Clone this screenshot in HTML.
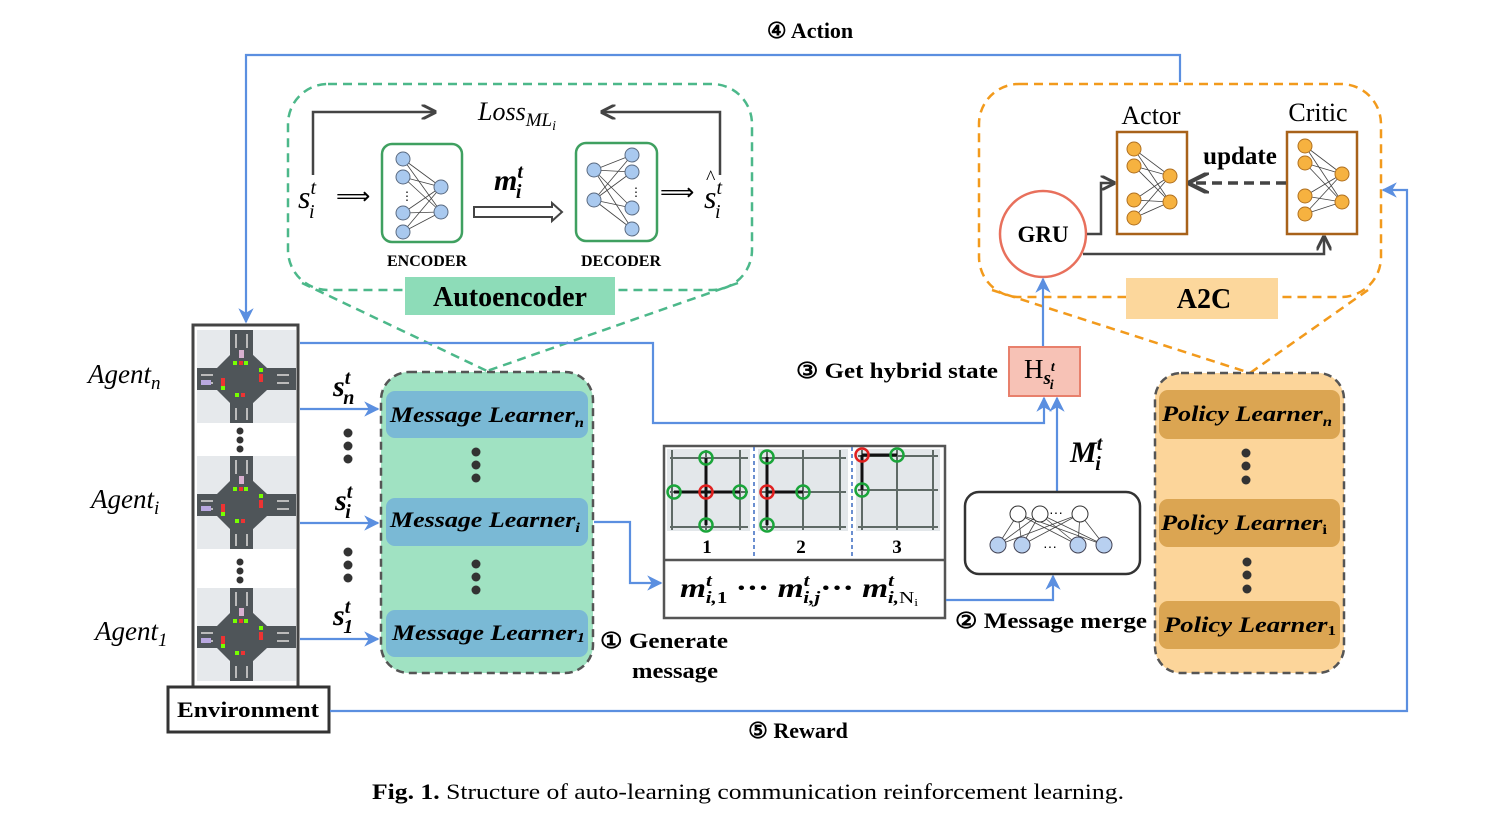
<!DOCTYPE html>
<html><head><meta charset="utf-8"><style>
html,body{margin:0;padding:0;background:#fff;}
svg{display:block;}
.s{font-family:"Liberation Serif",serif;}
.b{font-weight:bold;}
.i{font-style:italic;}
</style></head><body>
<svg width="1502" height="822" viewBox="0 0 1502 822" xmlns="http://www.w3.org/2000/svg">
<defs>
<marker id="ab" viewBox="0 0 10 10" refX="9" refY="5" markerWidth="7" markerHeight="7" orient="auto-start-reverse"><path d="M0,0 L10,5 L0,10 L3,5 Z" fill="#5b8fe0"/></marker>
<marker id="ak" viewBox="0 0 10 10" refX="9" refY="5" markerWidth="6" markerHeight="6" orient="auto"><path d="M0,0 L10,5 L0,10" fill="none" stroke="#444" stroke-width="2"/></marker>
<g id="inter">
<rect x="0" y="0" width="99" height="93" fill="#e6e9ec"/>
<rect x="33" y="0" width="23" height="93" fill="#4f5559"/>
<rect x="0" y="38" width="99" height="22" fill="#4f5559"/>
<polygon points="34,24 55,24 70,38 70,60 55,74 34,74 20,60 20,38" fill="#4f5559"/>
<rect x="38" y="4" width="2" height="14" fill="#bbb"/><rect x="49" y="4" width="2" height="14" fill="#bbb"/>
<rect x="38" y="78" width="2" height="12" fill="#bbb"/><rect x="49" y="78" width="2" height="12" fill="#bbb"/>
<rect x="4" y="44" width="12" height="2" fill="#bbb"/><rect x="80" y="44" width="12" height="2" fill="#bbb"/>
<rect x="4" y="52" width="12" height="2" fill="#bbb"/><rect x="80" y="52" width="12" height="2" fill="#bbb"/>
<rect x="36" y="31" width="4" height="4" fill="#7f0"/><rect x="42" y="31" width="4" height="4" fill="#e33"/><rect x="47" y="31" width="4" height="4" fill="#7f0"/>
<rect x="38" y="63" width="4" height="4" fill="#7f0"/><rect x="44" y="63" width="4" height="4" fill="#e33"/>
<rect x="62" y="38" width="4" height="4" fill="#7f0"/><rect x="62" y="44" width="4" height="8" fill="#e33"/>
<rect x="24" y="48" width="4" height="8" fill="#e33"/><rect x="24" y="56" width="4" height="4" fill="#7f0"/>
<rect x="4" y="50" width="10" height="5" fill="#b9a8e0"/><rect x="42" y="20" width="5" height="8" fill="#d8b0d0"/>
</g>
<g id="node"><circle r="7" fill="#a9c9ef" stroke="#5a6a80" stroke-width="1"/></g>
<g id="onode"><circle r="7" fill="#f6b240" stroke="#b07020" stroke-width="1"/></g>
</defs>

<polyline points="1180,82 1180,55 246,55 246,322" fill="none" stroke="#5b8fe0" stroke-width="2.2" marker-end="url(#ab)"/>
<text x="810" y="38" class="s b" font-size="22" text-anchor="middle">④ Action</text>

<rect x="288" y="84" width="464" height="206" rx="40" fill="none" stroke="#4cb88a" stroke-width="2.5" stroke-dasharray="9,6"/>
<line x1="302" y1="283" x2="487" y2="371" stroke="#4cb88a" stroke-width="2.5" stroke-dasharray="9,6"/>
<line x1="738" y1="283" x2="487" y2="371" stroke="#4cb88a" stroke-width="2.5" stroke-dasharray="9,6"/>
<rect x="405" y="277" width="210" height="38" fill="#8ddcb8"/>
<text x="510" y="306" class="s b" font-size="28" text-anchor="middle">Autoencoder</text>
<polyline points="313,175 313,112 435,112" fill="none" stroke="#444" stroke-width="2.5" marker-end="url(#ak)"/>
<polyline points="720,175 720,112 602,112" fill="none" stroke="#444" stroke-width="2.5" marker-end="url(#ak)"/>
<text x="478" y="120" class="s i" font-size="26">Loss<tspan font-size="19" dy="6">ML</tspan><tspan font-size="14" dy="4">i</tspan></text>
<text x="298" y="208" class="s i" font-size="32">s<tspan font-size="20" dy="-14">t</tspan><tspan font-size="20" dx="-7" dy="24">i</tspan></text>
<text x="336" y="204" font-family="DejaVu Sans" font-size="24">⟹</text>
<text x="660" y="200" font-family="DejaVu Sans" font-size="24">⟹</text>
<text x="704" y="208" class="s i" font-size="32">s<tspan font-size="20" dy="-14">t</tspan><tspan font-size="20" dx="-7" dy="24">i</tspan></text>
<text x="706" y="184" class="s" font-size="20">^</text>
<rect x="382" y="144" width="80" height="98" rx="10" fill="#fff" stroke="#3fa060" stroke-width="2.5"/>
<g stroke="#444" stroke-width="0.8">
<line x1="403" y1="159" x2="441" y2="187"/><line x1="403" y1="159" x2="441" y2="212"/>
<line x1="403" y1="177" x2="441" y2="187"/><line x1="403" y1="177" x2="441" y2="212"/>
<line x1="403" y1="213" x2="441" y2="187"/><line x1="403" y1="213" x2="441" y2="212"/>
<line x1="403" y1="232" x2="441" y2="187"/><line x1="403" y1="232" x2="441" y2="212"/>
</g>
<use href="#node" x="403" y="159"/><use href="#node" x="403" y="177"/><use href="#node" x="403" y="213"/><use href="#node" x="403" y="232"/>
<use href="#node" x="441" y="187"/><use href="#node" x="441" y="212"/>
<text x="401" y="200" font-size="12" font-family="Liberation Sans">⋮</text>
<text x="427" y="266" class="s b" font-size="16" text-anchor="middle">ENCODER</text>
<rect x="576" y="143" width="81" height="98" rx="10" fill="#fff" stroke="#3fa060" stroke-width="2.5"/>
<g stroke="#444" stroke-width="0.8">
<line x1="594" y1="170" x2="632" y2="155"/><line x1="594" y1="170" x2="632" y2="172"/><line x1="594" y1="170" x2="632" y2="208"/><line x1="594" y1="170" x2="632" y2="229"/>
<line x1="594" y1="200" x2="632" y2="155"/><line x1="594" y1="200" x2="632" y2="172"/><line x1="594" y1="200" x2="632" y2="208"/><line x1="594" y1="200" x2="632" y2="229"/>
</g>
<use href="#node" x="594" y="170"/><use href="#node" x="594" y="200"/>
<use href="#node" x="632" y="155"/><use href="#node" x="632" y="172"/><use href="#node" x="632" y="208"/><use href="#node" x="632" y="229"/>
<text x="630" y="196" font-size="12" font-family="Liberation Sans">⋮</text>
<text x="621" y="266" class="s b" font-size="16" text-anchor="middle">DECODER</text>
<text x="494" y="190" class="s b i" font-size="30">m<tspan font-size="20" dy="-12">t</tspan><tspan font-size="20" dx="-7" dy="20">i</tspan></text>
<path d="M474,207 L552,207 L552,203 L562,212 L552,221 L552,217 L474,217 Z" fill="#fff" stroke="#444" stroke-width="2"/>

<rect x="979" y="84" width="402" height="213" rx="40" fill="none" stroke="#f29a1c" stroke-width="2.5" stroke-dasharray="9,6"/>
<line x1="992" y1="290" x2="1250" y2="373" stroke="#f29a1c" stroke-width="2.5" stroke-dasharray="9,6"/>
<line x1="1368" y1="290" x2="1250" y2="373" stroke="#f29a1c" stroke-width="2.5" stroke-dasharray="9,6"/>
<rect x="1126" y="278" width="152" height="41" fill="#fcd79c"/>
<text x="1204" y="308" class="s b" font-size="28" text-anchor="middle">A2C</text>
<text x="1151" y="124" class="s" font-size="26" text-anchor="middle">Actor</text>
<text x="1318" y="121" class="s" font-size="26" text-anchor="middle">Critic</text>
<text x="1240" y="164" class="s b" font-size="25" text-anchor="middle">update</text>
<rect x="1117" y="132" width="70" height="102" fill="#fff" stroke="#a8621a" stroke-width="2.5"/>
<rect x="1287" y="132" width="70" height="102" fill="#fff" stroke="#a8621a" stroke-width="2.5"/>
<g stroke="#444" stroke-width="0.8">
<line x1="1134" y1="149" x2="1170" y2="176"/><line x1="1134" y1="149" x2="1170" y2="202"/><line x1="1134" y1="166" x2="1170" y2="176"/><line x1="1134" y1="166" x2="1170" y2="202"/>
<line x1="1134" y1="200" x2="1170" y2="176"/><line x1="1134" y1="200" x2="1170" y2="202"/><line x1="1134" y1="218" x2="1170" y2="176"/><line x1="1134" y1="218" x2="1170" y2="202"/>
<line x1="1305" y1="146" x2="1342" y2="174"/><line x1="1305" y1="146" x2="1342" y2="202"/><line x1="1305" y1="163" x2="1342" y2="174"/><line x1="1305" y1="163" x2="1342" y2="202"/>
<line x1="1305" y1="196" x2="1342" y2="174"/><line x1="1305" y1="196" x2="1342" y2="202"/><line x1="1305" y1="214" x2="1342" y2="174"/><line x1="1305" y1="214" x2="1342" y2="202"/>
</g>
<use href="#onode" x="1134" y="149"/><use href="#onode" x="1134" y="166"/><use href="#onode" x="1134" y="200"/><use href="#onode" x="1134" y="218"/>
<use href="#onode" x="1170" y="176"/><use href="#onode" x="1170" y="202"/>
<use href="#onode" x="1305" y="146"/><use href="#onode" x="1305" y="163"/><use href="#onode" x="1305" y="196"/><use href="#onode" x="1305" y="214"/>
<use href="#onode" x="1342" y="174"/><use href="#onode" x="1342" y="202"/>
<line x1="1286" y1="183" x2="1190" y2="183" stroke="#444" stroke-width="3.5" stroke-dasharray="10,6" marker-end="url(#ak)"/>
<circle cx="1043" cy="234" r="43" fill="#fff" stroke="#e8705c" stroke-width="2.5"/>
<text x="1043" y="242" class="s b" font-size="23" text-anchor="middle">GRU</text>
<polyline points="1087,234 1101,234 1101,183 1114,183" fill="none" stroke="#444" stroke-width="2.5" marker-end="url(#ak)"/>
<polyline points="1083,254 1324,254 1324,237" fill="none" stroke="#444" stroke-width="2.5" marker-end="url(#ak)"/>

<rect x="193" y="325" width="105" height="362" fill="#fff" stroke="#444" stroke-width="3"/>
<use href="#inter" x="197" y="330"/><use href="#inter" x="197" y="456"/><use href="#inter" x="197" y="588"/>
<g fill="#333"><circle cx="240" cy="431" r="3.5"/><circle cx="240" cy="440" r="3.5"/><circle cx="240" cy="449" r="3.5"/>
<circle cx="240" cy="562" r="3.5"/><circle cx="240" cy="571" r="3.5"/><circle cx="240" cy="580" r="3.5"/></g>
<rect x="168" y="687" width="161" height="45" fill="#fff" stroke="#333" stroke-width="3"/>
<text x="248" y="717" class="s b" font-size="22" text-anchor="middle" textLength="142" lengthAdjust="spacingAndGlyphs">Environment</text>
<text x="88" y="383" class="s i" font-size="27">Agent<tspan font-size="19" dy="6">n</tspan></text>
<text x="91" y="508" class="s i" font-size="27">Agent<tspan font-size="19" dy="6">i</tspan></text>
<text x="95" y="640" class="s i" font-size="27">Agent<tspan font-size="19" dy="6">1</tspan></text>

<polyline points="330,711 1407,711 1407,190 1383,190" fill="none" stroke="#5b8fe0" stroke-width="2.2" marker-end="url(#ab)"/>
<text x="798" y="738" class="s b" font-size="22" text-anchor="middle">⑤ Reward</text>

<line x1="300" y1="409" x2="378" y2="409" stroke="#5b8fe0" stroke-width="2.2" marker-end="url(#ab)"/>
<line x1="300" y1="523" x2="378" y2="523" stroke="#5b8fe0" stroke-width="2.2" marker-end="url(#ab)"/>
<line x1="300" y1="639" x2="378" y2="639" stroke="#5b8fe0" stroke-width="2.2" marker-end="url(#ab)"/>
<text x="333" y="396" class="s b i" font-size="30">s<tspan font-size="20" dy="-12">t</tspan><tspan font-size="20" dx="-7" dy="20">n</tspan></text>
<text x="335" y="510" class="s b i" font-size="30">s<tspan font-size="20" dy="-12">t</tspan><tspan font-size="20" dx="-7" dy="20">i</tspan></text>
<text x="333" y="625" class="s b i" font-size="30">s<tspan font-size="20" dy="-12">t</tspan><tspan font-size="20" dx="-7" dy="20">1</tspan></text>
<g fill="#333"><circle cx="348" cy="433" r="4.5"/><circle cx="348" cy="446" r="4.5"/><circle cx="348" cy="459" r="4.5"/>
<circle cx="348" cy="552" r="4.5"/><circle cx="348" cy="565" r="4.5"/><circle cx="348" cy="578" r="4.5"/></g>

<rect x="381" y="372" width="212" height="301" rx="28" fill="#a0e2c2" stroke="#555" stroke-width="2.5" stroke-dasharray="8,5"/>
<rect x="386" y="391" width="202" height="47" rx="9" fill="#7ab9d5"/>
<rect x="386" y="498" width="202" height="48" rx="9" fill="#7ab9d5"/>
<rect x="386" y="610" width="202" height="47" rx="9" fill="#7ab9d5"/>
<text x="390" y="422" class="s b i" font-size="22" textLength="194" lengthAdjust="spacingAndGlyphs">Message Learner<tspan font-size="14" dy="5">n</tspan></text>
<text x="390" y="527" class="s b i" font-size="22" textLength="190" lengthAdjust="spacingAndGlyphs">Message Learner<tspan font-size="14" dy="5">i</tspan></text>
<text x="392" y="640" class="s b i" font-size="22" textLength="193" lengthAdjust="spacingAndGlyphs">Message Learner<tspan font-size="14" dy="2">1</tspan></text>
<g fill="#333"><circle cx="476" cy="452" r="4.5"/><circle cx="476" cy="465" r="4.5"/><circle cx="476" cy="478" r="4.5"/>
<circle cx="476" cy="564" r="4.5"/><circle cx="476" cy="577" r="4.5"/><circle cx="476" cy="590" r="4.5"/></g>
<text x="600" y="648" class="s b" font-size="22" textLength="128" lengthAdjust="spacingAndGlyphs">① Generate</text>
<text x="632" y="678" class="s b" font-size="22" textLength="86" lengthAdjust="spacingAndGlyphs">message</text>

<polyline points="300,343 653,343 653,423 1044,423 1044,398" fill="none" stroke="#5b8fe0" stroke-width="2.2" marker-end="url(#ab)"/>
<line x1="1057" y1="491" x2="1057" y2="398" stroke="#5b8fe0" stroke-width="2.2" marker-end="url(#ab)"/>
<line x1="1043" y1="346" x2="1043" y2="279" stroke="#5b8fe0" stroke-width="2.2" marker-end="url(#ab)"/>
<rect x="1009" y="347" width="71" height="49" fill="#f7c2b6" stroke="#e8806c" stroke-width="2"/>
<text x="1024" y="378" class="s" font-size="27">H<tspan class="b i" font-size="19" dy="6">s</tspan><tspan class="b i" font-size="14" dy="-13">t</tspan><tspan class="b i" font-size="14" dx="-5" dy="18">i</tspan></text>
<text x="796" y="378" class="s b" font-size="22" textLength="202" lengthAdjust="spacingAndGlyphs">③ Get hybrid state</text>
<text x="1070" y="462" class="s b i" font-size="30">M<tspan font-size="20" dy="-12">t</tspan><tspan font-size="20" dx="-7" dy="20">i</tspan></text>

<polyline points="594,522 630,522 630,583 661,583" fill="none" stroke="#5b8fe0" stroke-width="2.2" marker-end="url(#ab)"/>
<rect x="664" y="446" width="281" height="172" fill="#fff" stroke="#555" stroke-width="2.5"/>
<line x1="664" y1="560" x2="945" y2="560" stroke="#555" stroke-width="2.5"/>
<rect x="667" y="449" width="83" height="82" fill="#e3e7ea"/>
<rect x="758" y="449" width="90" height="82" fill="#e3e7ea"/>
<rect x="856" y="449" width="84" height="82" fill="#e3e7ea"/>
<g stroke="#5f6a66" stroke-width="2">
<line x1="670" y1="458" x2="748" y2="458"/><line x1="670" y1="492" x2="748" y2="492"/><line x1="670" y1="527" x2="748" y2="527"/>
<line x1="672" y1="450" x2="672" y2="530"/><line x1="706" y1="450" x2="706" y2="530"/><line x1="740" y1="450" x2="740" y2="530"/>
<line x1="760" y1="458" x2="846" y2="458"/><line x1="760" y1="492" x2="846" y2="492"/><line x1="760" y1="527" x2="846" y2="527"/>
<line x1="767" y1="450" x2="767" y2="530"/><line x1="803" y1="450" x2="803" y2="530"/><line x1="840" y1="450" x2="840" y2="530"/>
<line x1="858" y1="456" x2="938" y2="456"/><line x1="858" y1="490" x2="938" y2="490"/><line x1="858" y1="527" x2="938" y2="527"/>
<line x1="862" y1="450" x2="862" y2="530"/><line x1="897" y1="450" x2="897" y2="530"/><line x1="933" y1="450" x2="933" y2="530"/>
</g>
<g stroke="#111" stroke-width="3">
<line x1="706" y1="458" x2="706" y2="525"/><line x1="674" y1="492" x2="740" y2="492"/>
<line x1="767" y1="457" x2="767" y2="525"/><line x1="767" y1="492" x2="803" y2="492"/>
<line x1="862" y1="455" x2="897" y2="455"/><line x1="862" y1="455" x2="862" y2="490"/>
</g>
<g fill="none" stroke-width="2.5">
<circle cx="706" cy="492" r="6.5" stroke="#e02020"/><circle cx="767" cy="492" r="6.5" stroke="#e02020"/><circle cx="862" cy="455" r="6.5" stroke="#e02020"/>
<g stroke="#1aa53a"><circle cx="706" cy="458" r="6.5"/><circle cx="674" cy="492" r="6.5"/><circle cx="740" cy="492" r="6.5"/><circle cx="706" cy="525" r="6.5"/>
<circle cx="767" cy="457" r="6.5"/><circle cx="803" cy="492" r="6.5"/><circle cx="767" cy="525" r="6.5"/>
<circle cx="897" cy="455" r="6.5"/><circle cx="862" cy="490" r="6.5"/></g>
</g>
<line x1="754" y1="447" x2="754" y2="558" stroke="#3a6ac0" stroke-width="1.5" stroke-dasharray="4,3"/>
<line x1="852" y1="447" x2="852" y2="558" stroke="#3a6ac0" stroke-width="1.5" stroke-dasharray="4,3"/>
<text x="707" y="553" class="s b" font-size="19" text-anchor="middle">1</text>
<text x="801" y="553" class="s b" font-size="19" text-anchor="middle">2</text>
<text x="897" y="553" class="s b" font-size="19" text-anchor="middle">3</text>
<text x="680" y="597" class="s b" font-size="27" textLength="238" lengthAdjust="spacingAndGlyphs"><tspan class="i">m</tspan><tspan class="i" font-size="17" dy="-11">t</tspan><tspan class="i" font-size="17" dx="-5" dy="17">i,</tspan><tspan font-size="17">1</tspan><tspan dy="-6"> ··· </tspan><tspan class="i">m</tspan><tspan class="i" font-size="17" dy="-11">t</tspan><tspan class="i" font-size="17" dx="-5" dy="17">i,j</tspan><tspan dy="-6">··· </tspan><tspan class="i">m</tspan><tspan class="i" font-size="17" dy="-11">t</tspan><tspan class="i" font-size="17" dx="-5" dy="17">i,</tspan><tspan font-size="17" font-weight="normal">N</tspan><tspan font-size="11" font-weight="normal" dy="3">i</tspan></text>

<polyline points="946,600 1053,600 1053,576" fill="none" stroke="#5b8fe0" stroke-width="2.2" marker-end="url(#ab)"/>
<rect x="965" y="492" width="175" height="82" rx="14" fill="#fff" stroke="#333" stroke-width="2.5"/>
<g stroke="#444" stroke-width="0.8">
<line x1="1018" y1="514" x2="998" y2="545"/><line x1="1018" y1="514" x2="1022" y2="545"/><line x1="1018" y1="514" x2="1078" y2="545"/><line x1="1018" y1="514" x2="1104" y2="545"/>
<line x1="1040" y1="514" x2="998" y2="545"/><line x1="1040" y1="514" x2="1022" y2="545"/><line x1="1040" y1="514" x2="1078" y2="545"/><line x1="1040" y1="514" x2="1104" y2="545"/>
<line x1="1080" y1="514" x2="998" y2="545"/><line x1="1080" y1="514" x2="1022" y2="545"/><line x1="1080" y1="514" x2="1078" y2="545"/><line x1="1080" y1="514" x2="1104" y2="545"/>
</g>
<g fill="#fff" stroke="#333" stroke-width="1"><circle cx="1018" cy="514" r="8"/><circle cx="1040" cy="514" r="8"/><circle cx="1080" cy="514" r="8"/></g>
<g fill="#b8d0f0" stroke="#445" stroke-width="1"><circle cx="998" cy="545" r="8"/><circle cx="1022" cy="545" r="8"/><circle cx="1078" cy="545" r="8"/><circle cx="1104" cy="545" r="8"/></g>
<text x="1049" y="517" font-size="14" font-family="Liberation Sans">···</text>
<text x="1043" y="551" font-size="14" font-family="Liberation Sans">···</text>
<text x="955" y="628" class="s b" font-size="22" textLength="192" lengthAdjust="spacingAndGlyphs">② Message merge</text>

<rect x="1155" y="373" width="189" height="300" rx="26" fill="#fcd59a" stroke="#555" stroke-width="2.5" stroke-dasharray="8,5"/>
<rect x="1159" y="390" width="181" height="49" rx="9" fill="#dba552"/>
<rect x="1159" y="499" width="181" height="48" rx="9" fill="#dba552"/>
<rect x="1159" y="601" width="181" height="48" rx="9" fill="#dba552"/>
<text x="1162" y="421" class="s b i" font-size="22" textLength="170" lengthAdjust="spacingAndGlyphs">Policy Learner<tspan font-size="14" dy="5">n</tspan></text>
<text x="1161" y="530" class="s b i" font-size="22" textLength="166" lengthAdjust="spacingAndGlyphs">Policy Learner<tspan font-size="14" font-style="normal" dy="4">i</tspan></text>
<text x="1164" y="632" class="s b i" font-size="22" textLength="172" lengthAdjust="spacingAndGlyphs">Policy Learner<tspan font-size="14" font-style="normal" dy="3">1</tspan></text>
<g fill="#333"><circle cx="1246" cy="453" r="4.5"/><circle cx="1246" cy="466" r="4.5"/><circle cx="1246" cy="480" r="4.5"/>
<circle cx="1247" cy="562" r="4.5"/><circle cx="1247" cy="575" r="4.5"/><circle cx="1247" cy="589" r="4.5"/></g>

<text x="372" y="799" class="s" font-size="22" textLength="752" lengthAdjust="spacingAndGlyphs"><tspan font-weight="bold">Fig. 1.</tspan>  Structure of auto-learning communication reinforcement learning.</text>
</svg>
</body></html>
